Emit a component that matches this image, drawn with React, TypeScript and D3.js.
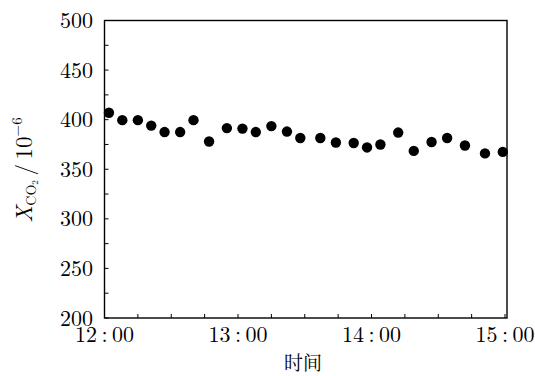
import React from 'react';
import * as d3 from 'd3';

// measurement times and CO2 mole fraction (10^-6)
const times = [
  '12:02', '12:08', '12:15', '12:21', '12:27', '12:34', '12:40', '12:47', '12:55',
  '13:02', '13:08', '13:15', '13:22', '13:28', '13:37', '13:44', '13:52', '13:58',
  '14:04', '14:12', '14:19', '14:27', '14:34', '14:42', '14:51', '14:59',
];
const co2 = [
  407, 399.5, 399.5, 394, 387.5, 387.5, 399.5, 378, 391.5,
  391, 387.5, 393.5, 388, 381.5, 381.5, 377, 376.5, 372,
  375, 387, 368.5, 377.5, 381.5, 374, 366, 367.5,
];
const xTickLabels = ['12:00', '13:00', '14:00', '15:00'];
const yTicks = [200, 250, 300, 350, 400, 450, 500];

const toHours = (s: string) => {
  const [h, m] = s.split(':').map(Number);
  return h + m / 60;
};

const W = 535;
const H = 376;
const font = 'Latin Modern Roman';

export default function App() {
  const left = 104.5;
  const right = 505;
  const top = 20.5;
  const bottom = 318;
  const frameRight = 507;

  const x = d3.scaleLinear().domain([12, 15]).range([left, right]);
  const y = d3.scaleLinear().domain([200, 500]).range([bottom, top]);

  const minorX = d3.range(12, 15.001, 0.25);
  const minorY = d3.range(200, 500.001, 25);
  const tickLen = 4;

  return (
    <svg width={W} height={H} style={{ position: 'absolute', left: 0, top: 0 }}>
      <rect x={0} y={0} width={W} height={H} fill="#fff" />
      {/* frame */}
      <rect x={left} y={top} width={frameRight - left} height={bottom - top}
        fill="none" stroke="#000" strokeWidth={1.4} />
      {/* x ticks */}
      {minorX.map((v, i) => (
        <line key={'xt' + i} x1={x(v)} x2={x(v)} y1={bottom} y2={bottom - tickLen}
          stroke="#000" strokeWidth={1} />
      ))}
      {/* y ticks */}
      {minorY.map((v, i) => (
        <line key={'yt' + i} x1={left} x2={left + tickLen} y1={y(v)} y2={y(v)}
          stroke="#000" strokeWidth={1} />
      ))}
      {/* x labels (TeX-style spacing round the colon) */}
      {xTickLabels.map(t => (
        <text key={t} x={x(toHours(t))} y={bottom + 24} textAnchor="middle"
          fontFamily={font} fontSize={22} fill="#000">{t.replace(':', '\u2009:\u2009')}</text>
      ))}
      {/* y labels */}
      {yTicks.map(v => (
        <text key={v} x={93} y={y(v) + 7.5} textAnchor="end"
          fontFamily={font} fontSize={22} fill="#000">{v}</text>
      ))}
      {/* points */}
      {times.map((t, i) => (
        <circle key={t} cx={x(toHours(t))} cy={y(co2[i])} r={5.2} fill="#000" />
      ))}
      {/* axis titles */}
      <text x={303} y={370} textAnchor="middle"
        fontFamily="Noto Serif CJK SC" fontSize={19} fill="#000">时间</text>
      <g transform="translate(32,170) rotate(-90)">
        <text textAnchor="middle" fontFamily={font} fontSize={23} fill="#000">
          <tspan fontStyle="italic">X</tspan>
          <tspan fontSize={14} dy={4}>CO</tspan>
          <tspan fontSize={9} dy={2}>2</tspan>
          <tspan dy={-6}>{'\u2009/\u200910'}</tspan>
          <tspan fontSize={15} dy={-10}>−6</tspan>
        </text>
      </g>
    </svg>
  );
}
